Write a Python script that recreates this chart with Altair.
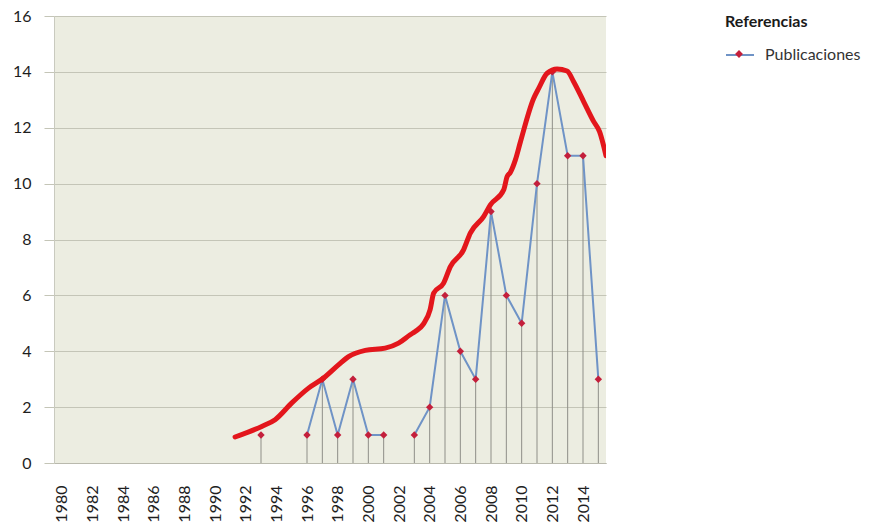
import altair as alt
import pandas as pd

# Publications per year (blue series)
pub_years = [1993, 1996, 1997, 1998, 1999, 2000, 2001, 2003, 2004, 2005,
             2006, 2007, 2008, 2009, 2010, 2011, 2012, 2013, 2014, 2015]
pub_values = [1, 1, 3, 1, 3, 1, 1, 1, 2, 6, 4, 3, 9, 6, 5, 10, 14, 11, 11, 3]

# Hand-drawn red trend curve
trend_years = [1991.31, 1993.05, 1993.92, 1995.01, 1996.10, 1997.08, 1998.05,
               1998.71, 1999.80, 2001.10, 2001.97, 2002.73, 2003.06, 2003.60,
               2004.03, 2004.26, 2004.91, 2005.35, 2006.21, 2006.65, 2007.52,
               2007.96, 2008.83, 2009.05, 2009.26, 2009.59, 2009.92, 2010.78,
               2011.11, 2011.66, 2012.31, 2012.96, 2013.39, 2014.05, 2014.70,
               2015.08, 2015.50]
trend_values = [0.93, 1.31, 1.55, 2.15, 2.68, 3.04, 3.51,
                3.81, 4.03, 4.11, 4.29, 4.59, 4.71, 4.98,
                5.49, 6.08, 6.44, 7.03, 7.63, 8.23, 8.82,
                9.24, 9.78, 10.25, 10.40, 10.85, 11.50, 13.05,
                13.41, 13.95, 14.10, 14.03, 13.65, 12.93, 12.22,
                11.86, 11.00]

x_tick_years = list(range(1980, 2015, 2))
y_ticks = list(range(0, 17, 2))

series_name = "Publicaciones"
legend_title = "Referencias"

# connected runs of consecutive years -> separate line segments
seg = []
s = 0
for i, yr in enumerate(pub_years):
    if i > 0 and yr - pub_years[i - 1] > 1:
        s += 1
    seg.append(s)

pub = pd.DataFrame({"year": pub_years, "value": pub_values, "seg": seg,
                    "serie": [series_name] * len(pub_years)})
trend = pd.DataFrame({"year": trend_years, "value": trend_values})

FONT = "Lato"
x_scale = alt.Scale(domain=[1979.5, 2015.5], nice=False, zero=False)
y_scale = alt.Scale(domain=[0, 16], nice=False, zero=True)

x_axis = alt.Axis(values=x_tick_years, format="d", labelAngle=270, grid=False,
                  ticks=False, domain=True, domainColor="#b9b9ad",
                  labelFontSize=16, labelFont=FONT, labelColor="#1e1e1e",
                  labelPadding=22, title=None, labelFlush=False,
                  labelOverlap=False)
y_axis = alt.Axis(values=y_ticks, grid=True, gridColor="#c4c5b7",
                  tickColor="#c4c5b7", tickSize=10, domain=True,
                  domainColor="#c9cabf", labelFontSize=16, labelFont=FONT,
                  labelColor="#1e1e1e", labelPadding=13, title=None)

X = alt.X("year:Q", scale=x_scale, axis=x_axis)
Y = alt.Y("value:Q", scale=y_scale, axis=y_axis)

legend_common = dict(
    orient="none", legendX=671, legendY=-2, padding=0,
    title=legend_title, titleFont=FONT, titleFontSize=16,
    titleFontWeight="bold", titleColor="#1a1a1a", titlePadding=10,
    labelFont=FONT, labelFontSize=16, labelColor="#333333",
    symbolSize=784, labelOffset=10,
)

rules = alt.Chart(pub).mark_rule(color="#8f8f88", strokeWidth=1).encode(
    x=X, y=Y, y2=alt.datum(0)
)

blue = alt.Chart(pub).mark_line(strokeWidth=2).encode(
    x=X, y=Y, detail="seg:N",
    stroke=alt.Stroke("serie:N", scale=alt.Scale(range=["#6f93c6"]),
                      legend=alt.Legend(symbolType="stroke",
                                        symbolStrokeWidth=2, zindex=1,
                                        **legend_common)),
)

points = alt.Chart(pub).mark_point(shape="diamond", filled=True, size=55,
                                   opacity=1).encode(
    x=X, y=Y,
    fill=alt.Fill("serie:N", scale=alt.Scale(range=["#c41f3b"]),
                  legend=alt.Legend(symbolType="M0,-0.28L0.28,0L0,0.28L-0.28,0Z",
                                    symbolStrokeWidth=0, zindex=2,
                                    labelOpacity=0, titleOpacity=0,
                                    **legend_common)),
)

red = alt.Chart(trend).mark_line(color="#e3161c", strokeWidth=5,
                                 strokeCap="round", strokeJoin="round",
                                 interpolate="monotone", clip=True).encode(
    x=X, y=Y
)

chart = alt.layer(rules, blue, points, red).resolve_scale(
    stroke="independent", fill="independent"
).properties(
    width=552, height=447,
    autosize=alt.AutoSizeParams(type="none"),
    padding={"left": 46, "top": 8, "right": 260, "bottom": 62},
    background="white",
).configure_view(
    stroke=None, fill="#ecede1"
)

chart.save("out.html", embed_options={"renderer": "svg", "actions": False})
